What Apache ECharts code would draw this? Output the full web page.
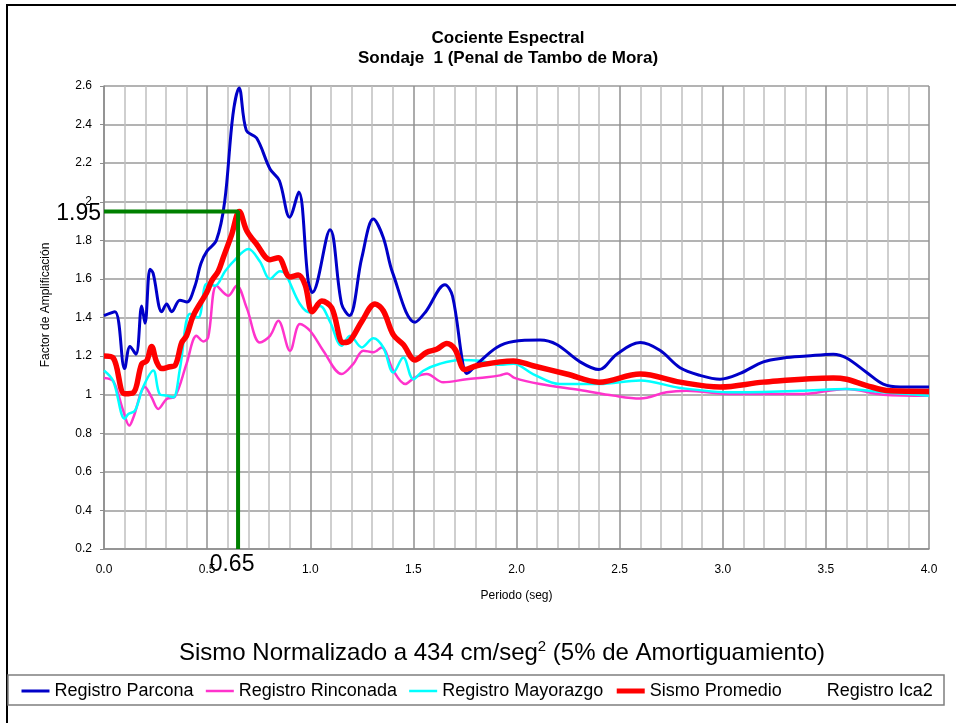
<!DOCTYPE html>
<html>
<head>
<meta charset="utf-8">
<script src="https://cdn.jsdelivr.net/npm/echarts@6/dist/echarts.min.js"></script>
<style>
  html, body { margin: 0; padding: 0; background: #fff; }
  #chart { width: 956px; height: 723px; }
</style>
</head>
<body>
<div id="chart"></div>
<script>
// periodo (seg), factor de amplificacion
const parcona = [
  [0.00, 1.41], [0.053, 1.43], [0.10, 1.135], [0.126, 1.25], [0.155, 1.21], [0.183, 1.46],
  [0.199, 1.37], [0.223, 1.65], [0.238, 1.63], [0.28, 1.43], [0.304, 1.47], [0.328, 1.43],
  [0.368, 1.49], [0.402, 1.48], [0.44, 1.56], [0.47, 1.68], [0.50, 1.745], [0.545, 1.80],
  [0.585, 2.00], [0.625, 2.45], [0.655, 2.59], [0.69, 2.37], [0.74, 2.33], [0.805, 2.17],
  [0.85, 2.11], [0.90, 1.92], [0.944, 2.05], [0.99, 1.59], [1.01, 1.53], [1.096, 1.855],
  [1.152, 1.47], [1.19, 1.41], [1.25, 1.71], [1.306, 1.91], [1.354, 1.815], [1.40, 1.63],
  [1.508, 1.375], [1.56, 1.43], [1.653, 1.57], [1.69, 1.51], [1.74, 1.16], [1.758, 1.11],
  [1.81, 1.16], [1.904, 1.245], [1.985, 1.276], [2.114, 1.283], [2.195, 1.26], [2.308, 1.17],
  [2.40, 1.13], [2.486, 1.21], [2.60, 1.27], [2.695, 1.23], [2.793, 1.14], [2.89, 1.10],
  [2.987, 1.08], [3.084, 1.11], [3.197, 1.17], [3.294, 1.19], [3.407, 1.20], [3.536, 1.21],
  [3.60, 1.19], [3.698, 1.115], [3.778, 1.055], [3.86, 1.04], [4.0, 1.04]
];
const rinconada = [
  [0.00, 1.087], [0.045, 1.07], [0.093, 0.917], [0.123, 0.84], [0.142, 0.88], [0.199, 1.04],
  [0.231, 0.986], [0.263, 0.926], [0.304, 0.978], [0.344, 0.99], [0.40, 1.16], [0.449, 1.305],
  [0.481, 1.276], [0.505, 1.297], [0.546, 1.565], [0.602, 1.513], [0.643, 1.565], [0.692, 1.45],
  [0.756, 1.27], [0.805, 1.305], [0.845, 1.383], [0.902, 1.228], [0.95, 1.366], [1.0, 1.33],
  [1.063, 1.228], [1.152, 1.107], [1.209, 1.16], [1.257, 1.228], [1.306, 1.22], [1.346, 1.245],
  [1.403, 1.124], [1.46, 1.055], [1.508, 1.09], [1.565, 1.107], [1.645, 1.064], [1.758, 1.08],
  [1.855, 1.09], [1.92, 1.10], [1.955, 1.11], [1.99, 1.087], [2.114, 1.055], [2.308, 1.024],
  [2.47, 0.995], [2.60, 0.98], [2.727, 1.012], [2.824, 1.02], [3.05, 1.003], [3.375, 1.003],
  [3.60, 1.03], [3.778, 1.0], [4.0, 0.995]
];
const mayorazgo = [
  [0.00, 1.125], [0.045, 1.07], [0.10, 0.875], [0.118, 0.90], [0.15, 0.917], [0.19, 1.04],
  [0.239, 1.125], [0.27, 1.003], [0.304, 0.995], [0.336, 0.986], [0.368, 1.133], [0.417, 1.42],
  [0.457, 1.40], [0.498, 1.575], [0.538, 1.565], [0.587, 1.64], [0.627, 1.69], [0.70, 1.755],
  [0.756, 1.69], [0.805, 1.60], [0.853, 1.64], [0.88, 1.625], [0.95, 1.47], [1.0, 1.426],
  [1.047, 1.46], [1.095, 1.38], [1.152, 1.254], [1.193, 1.305], [1.25, 1.245], [1.306, 1.293],
  [1.354, 1.245], [1.403, 1.115], [1.451, 1.193], [1.50, 1.08], [1.548, 1.124], [1.629, 1.16],
  [1.726, 1.18], [1.82, 1.176], [1.92, 1.155], [1.985, 1.16], [2.08, 1.107], [2.21, 1.055],
  [2.40, 1.055], [2.60, 1.073], [2.793, 1.035], [3.05, 1.012], [3.375, 1.02], [3.60, 1.03],
  [3.778, 1.012], [4.0, 0.995]
];
const promedio = [
  [0.00, 1.20], [0.045, 1.19], [0.10, 1.005], [0.142, 1.01], [0.183, 1.16], [0.207, 1.175],
  [0.231, 1.25], [0.255, 1.17], [0.28, 1.135], [0.32, 1.145], [0.344, 1.15], [0.377, 1.27],
  [0.40, 1.305], [0.433, 1.41], [0.498, 1.53], [0.522, 1.59], [0.554, 1.64], [0.578, 1.71],
  [0.619, 1.83], [0.656, 1.95], [0.692, 1.85], [0.74, 1.78], [0.805, 1.70], [0.845, 1.71],
  [0.902, 1.61], [0.942, 1.62], [0.975, 1.57], [1.01, 1.43], [1.056, 1.485], [1.104, 1.45],
  [1.16, 1.27], [1.193, 1.28], [1.25, 1.38], [1.314, 1.47], [1.354, 1.435], [1.403, 1.31],
  [1.451, 1.26], [1.508, 1.18], [1.565, 1.22], [1.613, 1.235], [1.662, 1.265], [1.702, 1.235],
  [1.75, 1.13], [1.807, 1.15], [1.92, 1.17], [1.985, 1.175], [2.08, 1.15], [2.243, 1.107],
  [2.40, 1.065], [2.60, 1.107], [2.793, 1.065], [2.987, 1.04], [3.197, 1.065], [3.536, 1.087],
  [3.60, 1.08], [3.698, 1.047], [3.81, 1.02], [4.0, 1.017]
];
const ica2 = [];

const periodoPico = 0.65;
const factorPico = 1.95;
const yMinimo = 0.2;

const nombres = ['Registro Parcona', 'Registro Rinconada', 'Registro Mayorazgo', 'Sismo Promedio', 'Registro Ica2'];
const colores = ['#0000c8', '#ff33cc', '#00ffff', '#ff0000', 'rgba(255,255,255,0)'];
const grosores = [3, 2.5, 2.5, 5.5, 2];

const font = '"Liberation Sans", Arial, sans-serif';
const chart = echarts.init(document.getElementById('chart'), null, { renderer: 'canvas' });

function curva(i, data, z) {
  return {
    name: nombres[i],
    type: 'line',
    data: data,
    smooth: 0.35,
    symbol: 'none',
    z: z,
    lineStyle: { color: colores[i], width: grosores[i] },
    itemStyle: { color: colores[i] }
  };
}

const etiqueta = {
  fontSize: 23, color: '#000', fontFamily: font
};

const option = {
  backgroundColor: '#ffffff',
  animation: false,
  textStyle: { fontFamily: font },
  title: [{
    text: 'Cociente Espectral\nSondaje  1 (Penal de Tambo de Mora)',
    left: 503,
    top: 23,
    textAlign: 'center',
    textStyle: { fontFamily: font, fontSize: 17, fontWeight: 'bold', color: '#000', lineHeight: 20 }
  }, {
    text: 'Sismo Normalizado a 434 cm/seg{sup|2} (5% de Amortiguamiento)',
    left: 497,
    top: 634,
    textAlign: 'center',
    textStyle: {
      fontFamily: font, fontSize: 24, fontWeight: 'normal', color: '#000', lineHeight: 28,
      rich: { sup: { fontFamily: font, fontSize: 15, verticalAlign: 'top', lineHeight: 28, padding: [0, 0, 10, 0] } }
    }
  }],
  grid: { left: 104, right: 27, top: 86, bottom: 174, containLabel: false },
  legend: {
    data: nombres.map((n, i) => ({ name: n, lineStyle: { color: colores[i], width: Math.min(grosores[i], 5) } })),
    left: 20,
    top: 682,
    padding: 0,
    itemWidth: 28,
    itemHeight: 14,
    itemGap: 11,
    itemStyle: { opacity: 0 },
    textStyle: { fontFamily: font, fontSize: 18, color: '#000' }
  },
  xAxis: {
    type: 'value',
    min: 0,
    max: 4,
    interval: 0.5,
    name: 'Periodo (seg)',
    nameLocation: 'middle',
    nameGap: 41,
    nameTextStyle: { fontFamily: font, fontSize: 12, color: '#000' },
    axisLine: { show: true, lineStyle: { color: '#8c8c8c', width: 1.5 } },
    axisTick: { show: false },
    axisLabel: { margin: 15, fontSize: 12, color: '#000', formatter: v => v.toFixed(1) },
    splitLine: { show: true, lineStyle: { color: '#909090', width: 1.5 } },
    minorTick: { show: false, splitNumber: 5 },
    minorSplitLine: { show: true, lineStyle: { color: '#c0c0c0', width: 1.5 } }
  },
  yAxis: {
    type: 'value',
    min: 0.2,
    max: 2.6,
    interval: 0.2,
    axisLine: { show: true, lineStyle: { color: '#8c8c8c', width: 1.5 } },
    axisTick: { show: true, length: 4, inside: false, lineStyle: { color: '#8c8c8c' } },
    axisLabel: { margin: 12, fontSize: 12, color: '#000' },
    splitLine: { show: true, lineStyle: { color: '#9a9a9a', width: 1.5 } }
  },
  graphic: [{
    type: 'rect',
    shape: { x: 7, y: 5, width: 970, height: 740 },
    style: { fill: 'none', stroke: '#000', lineWidth: 2 }
  }, {
    type: 'rect',
    shape: { x: 8, y: 675, width: 936, height: 30 },
    style: { fill: 'none', stroke: '#7f7f7f', lineWidth: 1.5 }
  }, {
    type: 'text',
    x: 46,
    y: 305,
    rotation: Math.PI / 2,
    style: {
      text: 'Factor de Amplificación',
      font: '12px ' + font,
      fill: '#000',
      textAlign: 'center',
      textVerticalAlign: 'middle'
    }
  }],
  series: [
    curva(1, rinconada, 2),
    curva(2, mayorazgo, 3),
    curva(0, parcona, 4),
    curva(3, promedio, 5),
    {
      name: nombres[4], type: 'line', data: ica2, symbol: 'none',
      lineStyle: { color: colores[4], width: grosores[4] }, itemStyle: { color: colores[4] }
    },
    {
      name: 'pico', type: 'line', z: 6,
      symbol: 'circle', symbolSize: 0, showSymbol: true,
      lineStyle: { color: '#008000', width: 4 },
      itemStyle: { color: '#008000' },
      label: { show: false },
      data: [
        { value: [0, factorPico], label: Object.assign({ show: true, position: 'left', distance: 3, offset: [0, 2],
          formatter: String(factorPico) }, etiqueta) },
        { value: [periodoPico, factorPico] },
        { value: [periodoPico, yMinimo], label: Object.assign({ show: true, position: 'bottom', distance: 2, offset: [-6, 2],
          formatter: String(periodoPico) }, etiqueta) }
      ]
    }
  ]
};

chart.setOption(option);
</script>
</body>
</html>
